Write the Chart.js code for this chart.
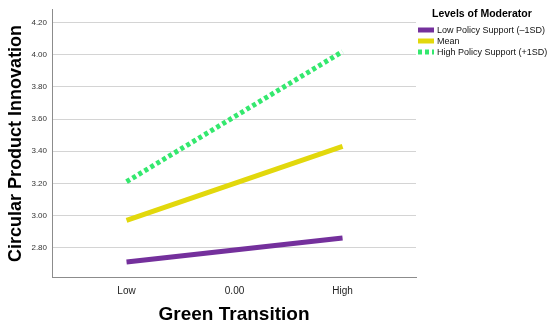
<!DOCTYPE html>
<html>
<head>
<meta charset="utf-8">
<script src="https://cdn.jsdelivr.net/npm/chart.js@4"></script>
<style>
  body { margin: 0; background: #fff; }
  #wrap { position: relative; width: 550px; height: 326px; }
</style>
</head>
<body>
<div id="wrap"><canvas id="chart" width="550" height="326"></canvas></div>
<script>
// moderation plot: x at -1SD / mean / +1SD of Green Transition
const xLevels = [-1, 1];
const xTickValues = [-1, 0, 1];
const xTickLabels = ["Low", "0.00", "High"];
const yTicks = [2.8, 3.0, 3.2, 3.4, 3.6, 3.8, 4.0, 4.2];

const seriesNames = ["Low Policy Support (\u20131SD)", "Mean", "High Policy Support (+1SD)"];
const lowSupport = [2.71, 2.86];
const meanSupport = [2.97, 3.43];
const highSupport = [3.21, 4.02];

const colors = ["#74309c", "#e2d80c", "#34e86e"];
const font = "'Liberation Sans', Arial, sans-serif";

const toPoints = (vals) => vals.map((v, i) => ({ x: xLevels[i], y: v }));

// legend drawn to the right of the plot
const sideLegend = {
  id: "sideLegend",
  afterDraw(chart) {
    const ctx = chart.ctx;
    const x0 = 418;
    ctx.save();
    ctx.fillStyle = "#000";
    ctx.font = "bold 10.5px " + font;
    ctx.textBaseline = "middle";
    ctx.fillText("Levels of Moderator", 432, 14);
    ctx.font = "9px " + font;
    chart.data.datasets.forEach((ds, i) => {
      const y = 30 + i * 11;
      ctx.strokeStyle = ds.borderColor;
      ctx.lineWidth = 5;
      ctx.setLineDash(ds.borderDash || []);
      ctx.beginPath();
      ctx.moveTo(x0, y);
      ctx.lineTo(x0 + 16, y);
      ctx.stroke();
      ctx.fillStyle = "#111";
      ctx.fillText(ds.label, x0 + 19, y + 0.5);
    });
    ctx.restore();
  }
};

new Chart(document.getElementById("chart"), {
  type: "scatter",
  data: {
    datasets: [
      { label: seriesNames[0], data: toPoints(lowSupport), borderColor: colors[0] },
      { label: seriesNames[1], data: toPoints(meanSupport), borderColor: colors[1] },
      { label: seriesNames[2], data: toPoints(highSupport), borderColor: colors[2], borderDash: [4, 3] }
    ].map(d => Object.assign(d, { showLine: true, borderWidth: 5, pointRadius: 0, borderCapStyle: "butt" }))
  },
  plugins: [sideLegend],
  options: {
    responsive: false,
    animation: false,
    devicePixelRatio: 1,
    layout: { padding: { left: 5, right: 134, top: 5, bottom: 0 } },
    plugins: { legend: { display: false }, tooltip: { enabled: false } },
    scales: {
      x: {
        type: "linear",
        min: -1.69,
        max: 1.68,
        afterBuildTicks: (s) => { s.ticks = xTickValues.map(v => ({ value: v })); },
        afterFit: (s) => { s.height = 49; },
        grid: { display: false, drawTicks: false },
        border: { color: "#8c8c8c", width: 1 },
        ticks: {
          padding: 8,
          color: "#222",
          font: { family: font, size: 10 },
          callback: (v) => xTickLabels[xTickValues.indexOf(v)]
        },
        title: {
          display: true,
          text: "Green Transition",
          color: "#000",
          font: { family: font, size: 19, weight: "bold" },
          padding: { top: 7, bottom: 0 }
        }
      },
      y: {
        min: 2.617,
        max: 4.28,
        afterBuildTicks: (s) => { s.ticks = yTicks.map(v => ({ value: v })); },
        afterFit: (s) => { s.width = 47; },
        grid: { color: "#d4d4d4", lineWidth: 1, drawTicks: false },
        border: { color: "#8c8c8c", width: 1 },
        ticks: {
          padding: 5,
          color: "#333",
          font: { family: font, size: 8 },
          callback: (v) => v.toFixed(2)
        },
        title: {
          display: true,
          text: "Circular Product Innovation",
          color: "#000",
          font: { family: font, size: 18, weight: "bold" },
          padding: { top: 0, bottom: 5 }
        }
      }
    }
  }
});
</script>
</body>
</html>
